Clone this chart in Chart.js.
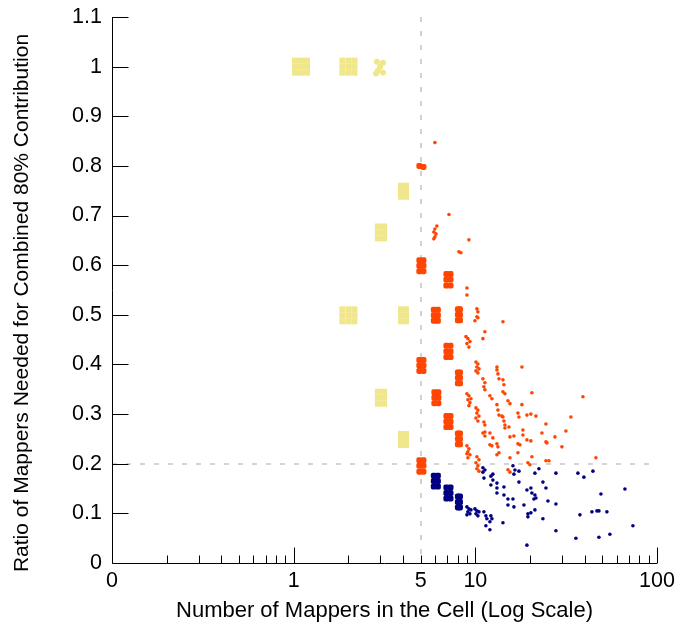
<!DOCTYPE html>
<html>
<head>
<meta charset="utf-8">
<script src="https://cdn.jsdelivr.net/npm/chart.js@4.4.0/dist/chart.umd.min.js"></script>
<style>
  html, body { margin: 0; padding: 0; background: #fff; }
</style>
</head>
<body>
<canvas id="chart" width="696" height="633"></canvas>
<script>
// Cells with fewer than 5 mappers (khaki), jittered around each ratio k/n
const fewMappersDense = [
  [1.017, 1.012], [1.097, 1.012], [1.184, 1.012], [1.017, 1.0], [1.097, 1.0], [1.184, 1.0],
  [1.017, 0.988], [1.097, 0.988], [1.184, 0.988],
  [1.855, 1.012], [2.005, 1.012], [2.16, 1.012], [1.855, 1.0], [2.005, 1.0], [2.16, 1.0],
  [1.855, 0.988], [2.005, 0.988], [2.16, 0.988],
  [1.855, 0.511], [2.005, 0.511], [2.16, 0.511], [1.855, 0.499], [2.005, 0.499], [2.16, 0.499],
  [1.855, 0.487], [2.005, 0.487], [2.16, 0.487],
  [2.91, 0.678], [3.14, 0.678], [2.91, 0.666], [3.14, 0.666], [2.91, 0.654], [3.14, 0.654],
  [2.91, 0.345], [3.14, 0.345], [2.91, 0.333], [3.14, 0.333], [2.91, 0.321], [3.14, 0.321],
  [3.90, 0.760], [4.15, 0.760], [3.90, 0.749], [4.15, 0.749], [3.90, 0.738], [4.15, 0.738],
  [3.90, 0.511], [4.15, 0.511], [3.90, 0.499], [4.15, 0.499], [3.90, 0.487], [4.15, 0.487],
  [3.90, 0.260], [4.15, 0.260], [3.90, 0.249], [4.15, 0.249], [3.90, 0.238], [4.15, 0.238]
]
const fewMappersSparse = [
  [2.87, 1.010], [3.10, 1.008], [2.99, 1.0], [2.91, 0.992], [3.10, 0.988], [2.84, 0.986]
]

// 5+ mappers, ratio at or above 0.2 (orange-red)
const aboveCutDense = [
  [4.92, 0.800], [5.18, 0.798],
  [4.92, 0.610], [5.18, 0.610], [4.92, 0.599], [5.18, 0.599], [4.92, 0.588], [5.18, 0.588],
  [4.92, 0.409], [5.18, 0.409], [4.92, 0.398], [5.18, 0.398], [4.92, 0.387], [5.18, 0.387],
  [4.92, 0.207], [5.18, 0.207], [4.92, 0.196], [5.18, 0.196], [4.92, 0.184], [5.18, 0.184],
  [5.91, 0.510], [6.22, 0.510], [5.91, 0.499], [6.22, 0.499], [5.91, 0.488], [6.22, 0.488],
  [5.95, 0.344], [6.26, 0.344], [5.95, 0.333], [6.26, 0.333], [5.95, 0.322], [6.26, 0.322],
  [6.93, 0.582], [7.30, 0.582], [6.93, 0.571], [7.30, 0.571], [6.93, 0.559], [7.30, 0.559],
  [6.93, 0.4375], [7.30, 0.4375], [6.93, 0.426], [7.30, 0.426], [6.93, 0.415], [7.30, 0.415],
  [6.93, 0.296], [7.30, 0.296], [6.93, 0.285], [7.30, 0.285], [6.93, 0.274], [7.30, 0.274],
  [8.02, 0.511], [8.23, 0.511], [8.02, 0.500], [8.23, 0.500], [8.02, 0.489], [8.23, 0.489],
  [8.02, 0.384], [8.23, 0.384], [8.02, 0.373], [8.23, 0.373], [8.02, 0.362], [8.23, 0.362],
  [8.02, 0.261], [8.23, 0.261], [8.02, 0.250], [8.23, 0.250], [8.02, 0.239], [8.23, 0.239]
]
const aboveCutSparse = [
  [6.14, 0.679], [5.99, 0.673], [5.91, 0.667], [6.07, 0.663], [5.99, 0.657], [5.91, 0.653],
  [8.88, 0.456], [9.10, 0.452], [8.99, 0.442], [9.22, 0.435], [9.34, 0.446],
  [8.99, 0.341], [9.22, 0.337], [9.10, 0.329], [9.34, 0.323], [9.22, 0.317], [9.46, 0.331],
  [8.99, 0.236], [9.22, 0.230], [9.10, 0.224], [9.34, 0.218], [9.10, 0.212], [8.99, 0.220],
  [10.20, 0.512], [10.33, 0.506], [10.20, 0.496], [9.95, 0.488], [10.33, 0.494],
  [10.08, 0.405], [10.33, 0.401], [10.20, 0.395], [10.47, 0.391], [10.08, 0.387], [10.33, 0.383],
  [10.08, 0.3125], [10.33, 0.308], [10.20, 0.302], [10.47, 0.296], [10.08, 0.292], [10.33, 0.286],
  [10.20, 0.214], [10.47, 0.208], [10.08, 0.202], [10.33, 0.196], [10.20, 0.190], [10.47, 0.185],
  [5.99, 0.847], [7.16, 0.702], [9.22, 0.651], [8.12, 0.627], [8.33, 0.625],
  [8.99, 0.554], [8.99, 0.540], [14.19, 0.486], [11.29, 0.466], [11.01, 0.452],
  [11.01, 0.371], [11.29, 0.363], [11.15, 0.355], [11.29, 0.349],
  [13.15, 0.395], [13.15, 0.389], [13.32, 0.381], [13.49, 0.371], [18.05, 0.395],
  [14.19, 0.369], [14.37, 0.359], [14.19, 0.345], [14.55, 0.341], [20.48, 0.343],
  [12.03, 0.337], [12.34, 0.331], [13.15, 0.319], [13.32, 0.308], [13.49, 0.298], [14.01, 0.296],
  [15.12, 0.327], [15.51, 0.321], [18.05, 0.319], [39.10, 0.335],
  [11.15, 0.284], [11.29, 0.278], [11.29, 0.264], [11.01, 0.262], [11.29, 0.256],
  [14.19, 0.294], [14.37, 0.286], [14.55, 0.278], [14.55, 0.272],
  [15.31, 0.274], [15.51, 0.254], [16.31, 0.256], [17.16, 0.302], [17.38, 0.294],
  [19.23, 0.298], [20.22, 0.300], [21.56, 0.296], [33.58, 0.294], [24.47, 0.280],
  [18.28, 0.268], [18.28, 0.258], [23.26, 0.262], [31.52, 0.266], [27.42, 0.254],
  [12.03, 0.262], [12.49, 0.252], [12.03, 0.238], [12.34, 0.236], [13.15, 0.240], [13.32, 0.234],
  [17.16, 0.240], [17.60, 0.238], [19.23, 0.248], [20.22, 0.246], [24.47, 0.244], [24.78, 0.242],
  [17.16, 0.222], [13.15, 0.218], [13.49, 0.222], [15.51, 0.212], [29.97, 0.234],
  [19.47, 0.202], [19.97, 0.198], [20.48, 0.214], [24.47, 0.206], [25.42, 0.206], [46.11, 0.212],
  [15.12, 0.188], [15.51, 0.183]
]

// 5+ mappers, ratio below 0.2 (navy)
const belowCutDense = [
  [5.91, 0.176], [6.22, 0.176], [5.91, 0.165], [6.22, 0.165], [5.91, 0.154], [6.22, 0.154],
  [6.93, 0.152], [7.30, 0.152], [6.93, 0.141], [7.30, 0.141], [6.93, 0.130], [7.30, 0.130],
  [8.02, 0.134], [8.23, 0.134], [8.02, 0.123], [8.23, 0.123], [8.02, 0.112], [8.23, 0.112]
]
const belowCutSparse = [
  [8.99, 0.113], [9.22, 0.109], [9.10, 0.103], [9.34, 0.099], [8.99, 0.097], [9.46, 0.107],
  [9.95, 0.109], [10.20, 0.105], [10.08, 0.099], [10.33, 0.095], [10.47, 0.103],
  [11.01, 0.192], [11.29, 0.1875], [11.01, 0.183], [11.15, 0.171], [12.18, 0.175], [12.49, 0.179],
  [12.49, 0.167], [13.15, 0.161], [12.18, 0.157], [13.15, 0.151], [13.15, 0.141],
  [11.15, 0.103], [11.43, 0.095], [11.58, 0.089], [12.18, 0.095], [12.34, 0.089], [12.03, 0.083],
  [11.43, 0.075], [12.03, 0.067], [14.19, 0.081], [14.37, 0.153], [14.37, 0.137],
  [15.12, 0.129], [15.12, 0.117], [16.11, 0.129], [16.31, 0.113],
  [16.11, 0.196], [16.52, 0.1875], [17.38, 0.185], [16.31, 0.179], [17.38, 0.163], [18.51, 0.117],
  [19.23, 0.147], [20.22, 0.151], [20.48, 0.141], [21.28, 0.137], [21.56, 0.131], [21.01, 0.129],
  [19.47, 0.099], [19.47, 0.093], [20.22, 0.101], [21.28, 0.107], [19.23, 0.036],
  [21.28, 0.181], [22.39, 0.190], [23.55, 0.163], [24.47, 0.151], [23.55, 0.089],
  [25.10, 0.125], [27.77, 0.119], [27.77, 0.181], [27.77, 0.065],
  [36.70, 0.181], [39.60, 0.173], [44.39, 0.185],
  [37.64, 0.097], [43.83, 0.103], [46.70, 0.105], [47.90, 0.105], [52.99, 0.103], [49.13, 0.139],
  [35.78, 0.050], [47.90, 0.052], [55.04, 0.058], [66.6, 0.149], [73.7, 0.075]
]

const xTickValues = [0.1, 1, 5, 10, 100]
const xTickLabels = ["0", "1", "5", "10", "100"]
const cutoffMappers = 5
const cutoffRatio = 0.2
const xTitle = "Number of Mappers in the Cell (Log Scale)"
const yTitle = "Ratio of Mappers Needed for Combined 80% Contribution"

const FAMILY = "'Liberation Sans', Arial, sans-serif"
const TICK_FONT = { family: FAMILY, size: 21.5 }

const toPoints = (arr) => arr.map(([x, y]) => ({ x, y }))

// Dashed cut-off lines behind the points, axes + inward ticks + titles on top
const axisDecor = {
  id: "axisDecor",
  beforeDatasetsDraw(chart) {
    const { ctx, chartArea: a, scales: { x, y } } = chart
    const cx = Math.round(x.getPixelForValue(cutoffMappers))
    const cy = Math.round(y.getPixelForValue(cutoffRatio))
    ctx.save()
    ctx.strokeStyle = "#c6c6c6"
    ctx.lineWidth = 1.6
    ctx.setLineDash([5, 9])
    ctx.beginPath()
    ctx.moveTo(cx, a.top)
    ctx.lineTo(cx, a.bottom)
    ctx.moveTo(a.left, cy)
    ctx.lineTo(a.right, cy)
    ctx.stroke()
    ctx.restore()
  },
  afterDatasetsDraw(chart) {
    const { ctx, chartArea: a, scales: { x, y } } = chart
    const left = Math.round(a.left) + 0.5
    const bottom = Math.round(a.bottom) + 0.5
    ctx.save()
    ctx.strokeStyle = "#000"
    ctx.lineWidth = 1
    ctx.beginPath()
    ctx.moveTo(left, a.top)
    ctx.lineTo(left, bottom)
    ctx.lineTo(a.right, bottom)
    y.ticks.forEach((t) => {
      const py = Math.round(y.getPixelForValue(t.value)) + 0.5
      ctx.moveTo(left, py)
      ctx.lineTo(left + 16, py)
    })
    ;[0.1, 1, 10].forEach((decade) => {
      for (let m = 1; m <= 9; m++) {
        const v = decade * m
        if (v <= 0.1) continue
        const px = Math.round(x.getPixelForValue(v)) + 0.5
        ctx.moveTo(px, bottom)
        ctx.lineTo(px, bottom - (m === 1 ? 16 : 8))
      }
    })
    const pEnd = Math.round(x.getPixelForValue(100)) + 0.5
    ctx.moveTo(pEnd, bottom)
    ctx.lineTo(pEnd, bottom - 16)
    ctx.stroke()

    // axis titles
    ctx.fillStyle = "#000"
    ctx.textAlign = "center"
    ctx.textBaseline = "middle"
    ctx.font = "22px " + FAMILY
    ctx.fillText(xTitle, (a.left + a.right) / 2, 611)
    ctx.translate(22, 303)
    ctx.rotate(-Math.PI / 2)
    ctx.font = "21px " + FAMILY
    ctx.fillText(yTitle, 0, 0)
    ctx.restore()
  }
}

const pointSet = (data, color, radius, style) => ({
  data: toPoints(data),
  backgroundColor: color,
  borderWidth: 0,
  pointStyle: style || "circle",
  pointRadius: radius,
  pointHoverRadius: radius
})

new Chart(document.getElementById("chart"), {
  type: "scatter",
  data: {
    datasets: [
      pointSet(belowCutSparse, "#000080", 1.8),
      pointSet(belowCutDense, "#000080", 3.5, "rectRounded"),
      pointSet(aboveCutSparse, "#ff4500", 1.8),
      pointSet(aboveCutDense, "#ff4500", 3.5, "rectRounded"),
      pointSet(fewMappersSparse, "#f0e68c", 3),
      pointSet(fewMappersDense, "#f0e68c", 4.3, "rect")
    ]
  },
  options: {
    responsive: false,
    animation: false,
    layout: { padding: { top: 17, right: 39, left: 0, bottom: 0 } },
    plugins: { legend: { display: false }, tooltip: { enabled: false } },
    scales: {
      x: {
        type: "logarithmic",
        min: 0.1,
        max: 100,
        grid: { display: false, drawTicks: false },
        border: { display: false },
        afterBuildTicks: (scale) => {
          scale.ticks = xTickValues.map((v) => ({ value: v }))
        },
        afterFit: (scale) => {
          scale.height = 70
        },
        ticks: {
          autoSkip: false,
          maxRotation: 0,
          padding: 5,
          color: "#000",
          font: TICK_FONT,
          callback: (value, index) => xTickLabels[index]
        }
      },
      y: {
        min: 0,
        max: 1.1,
        grid: { display: false, drawTicks: false },
        border: { display: false },
        afterFit: (scale) => {
          scale.width = 112
          scale.paddingTop = 0
          scale.paddingBottom = 0
        },
        ticks: {
          stepSize: 0.1,
          padding: 10,
          color: "#000",
          font: TICK_FONT,
          callback: (value) => String(Number(value.toFixed(1)))
        }
      }
    }
  },
  plugins: [axisDecor]
})
</script>
</body>
</html>
